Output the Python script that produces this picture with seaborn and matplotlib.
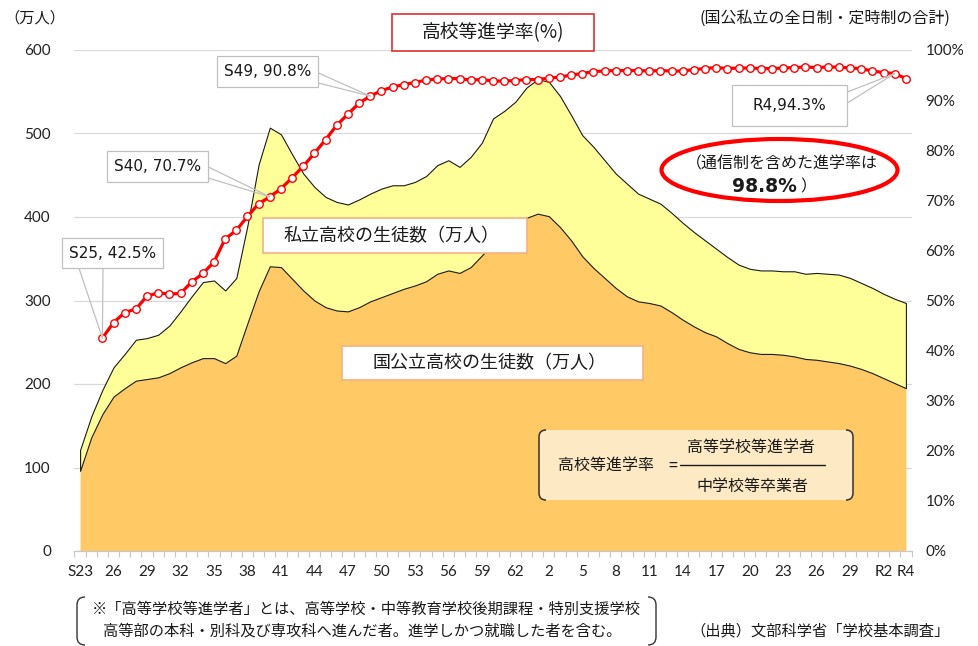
import numpy as np
import pandas as pd
import matplotlib
matplotlib.use("Agg")
import matplotlib.pyplot as plt
import matplotlib.transforms as mtransforms
from matplotlib.patches import Rectangle, Ellipse, PathPatch, FancyBboxPatch, ConnectionPatch
from matplotlib.path import Path
import seaborn as sns

# ---------------- data ----------------
years = list(range(1948, 2023))
public = [96, 136, 164, 185, 195, 204, 206, 208, 213, 220,
          226, 231, 231, 225, 234, 273, 311, 341, 340, 326,
          312, 300, 292, 288, 287, 292, 299, 304, 309, 314,
          318, 323, 332, 336, 333, 340, 354, 368, 378, 388,
          399, 404, 401, 388, 372, 353, 339, 327, 315, 305,
          299, 297, 294, 286, 277, 269, 262, 257, 249, 242,
          238, 236, 236, 235, 233, 230, 229, 227, 225, 222,
          218, 213, 207, 201, 195]
total = [121, 161, 193, 220, 236, 253, 255, 259, 270, 287,
         305, 322, 324, 312, 327, 390, 463, 507, 499, 475,
         452, 436, 424, 418, 415, 421, 428, 434, 438, 438,
         442, 449, 462, 468, 460, 472, 489, 518, 527, 538,
         555, 565, 562, 545, 522, 498, 484, 468, 452, 440,
         428, 422, 416, 405, 393, 382, 372, 362, 352, 343,
         338, 336, 336, 335, 335, 332, 333, 332, 331, 327,
         321, 315, 308, 302, 297]
rate_years = list(range(1950, 2023))
rate = [42.5, 45.6, 47.6, 48.3, 50.9, 51.5, 51.3, 51.4, 53.7, 55.4,
        57.7, 62.3, 64.0, 66.8, 69.3, 70.7, 72.3, 74.5, 76.8, 79.4,
        82.1, 85.0, 87.2, 89.4, 90.8, 91.9, 92.6, 93.1, 93.5, 94.0,
        94.2, 94.3, 94.3, 94.0, 94.1, 93.8, 93.8, 93.9, 94.1, 94.1,
        94.4, 94.6, 95.0, 95.3, 95.7, 95.8, 95.9, 95.9, 95.9, 95.8,
        95.9, 95.8, 95.8, 96.1, 96.3, 96.5, 96.3, 96.4, 96.4, 96.3,
        96.3, 96.4, 96.5, 96.6, 96.5, 96.6, 96.6, 96.4, 96.3, 95.8,
        95.5, 95.3, 94.3]
tick_years = [1948, 1951, 1954, 1957, 1960, 1963, 1966, 1969, 1972, 1975,
              1978, 1981, 1984, 1987, 1990, 1993, 1996, 1999, 2002, 2005,
              2008, 2011, 2014, 2017, 2020, 2022]
tick_labels = ["S23", "26", "29", "32", "35", "38", "41", "44", "47", "50",
               "53", "56", "59", "62", "2", "5", "8", "11", "14", "17",
               "20", "23", "26", "29", "R2", "R4"]
callouts = [("S25, 42.5%", 1950), ("S40, 70.7%", 1965),
            ("S49, 90.8%", 1974), ("R4,94.3%", 2021)]

df = pd.DataFrame({"year": years, "public": public, "total": total})
df["x"] = df["year"] - years[0]
rdf = pd.DataFrame({"year": rate_years, "rate": rate})
rdf["x"] = rdf["year"] - years[0]

# ---------------- style ----------------
sns.set_theme(style="white")
JP = ["Noto Sans CJK JP", "DejaVu Sans"]
plt.rcParams["font.family"] = JP

W, H = 979, 646
fig = plt.figure(figsize=(W / 100, H / 100), dpi=100)
PX = mtransforms.Affine2D().scale(0.01, -0.01).translate(0, H / 100) + fig.dpi_scale_trans

ax = fig.add_axes([74.5 / W, 1 - 551 / H, (911.5 - 74.5) / W, (551 - 50) / H])
ax.set_xlim(-0.5, 74.5)
ax.set_ylim(0, 600)

ax.fill_between(df["x"], 0, df["public"], color="#FFC966", lw=0, zorder=2)
ax.fill_between(df["x"], df["public"], df["total"], facecolor="#FFFF99",
                edgecolor="#1a1a1a", lw=0.8, zorder=2)

ax.set_yticks(range(0, 601, 100))
ax.yaxis.grid(True, color="#d9d9d9", lw=0.9)
ax.set_axisbelow(True)
ax.set_xticks([y - years[0] for y in tick_years])
ax.set_xticklabels(tick_labels)
ax.set_xticks(np.arange(-0.5, 75, 1), minor=True)
ax.tick_params(axis="x", which="major", length=0, pad=10, labelsize=11, colors="#222222")
ax.tick_params(axis="x", which="minor", length=4.5, width=0.8, color="#c8c8c8", bottom=True)
ax.tick_params(axis="y", length=0, pad=17, labelsize=11, colors="#222222")
for s in ["top", "left", "right"]:
    ax.spines[s].set_visible(False)
ax.spines["bottom"].set_color("#c8c8c8")
ax.spines["bottom"].set_linewidth(0.9)
for lab in ax.get_xticklabels() + ax.get_yticklabels():
    lab.set_fontfamily("Lato")
ax.set_xlabel("")
ax.set_ylabel("")

ax2 = ax.twinx()
sns.lineplot(data=rdf, x="x", y="rate", ax=ax2, color="#FF0000", lw=2.3,
             marker="o", markersize=5.4, markerfacecolor="white",
             markeredgecolor="#FF0000", markeredgewidth=1.0, zorder=5)
ax2.set_ylim(0, 100)
ax2.set_xlim(-0.5, 74.5)
ax2.set_yticks(range(0, 101, 10))
ax2.set_yticklabels([f"{v}%" for v in range(0, 101, 10)])
ax2.tick_params(axis="y", length=0, pad=10, labelsize=11, colors="#222222")
for lab in ax2.get_yticklabels():
    lab.set_fontfamily("Lato")
for s in ax2.spines.values():
    s.set_visible(False)
ax2.set_xlabel("")
ax2.set_ylabel("")


# ---------------- decorations (pixel layout) ----------------
def rect(x0, y0, x1, y1, ec, fc="white", lw=1.0):
    fig.add_artist(Rectangle((x0, y0), x1 - x0, y1 - y0, transform=PX,
                             ec=ec, fc=fc, lw=lw, zorder=6))


def txt(x, y, s, size, ha="center", **kw):
    fig.text(x, y, s, transform=PX, ha=ha, va="center", fontsize=size,
             color=kw.pop("color", "#1a1a1a"), zorder=8, **kw)


def brackets(x0, y0, x1, y1, r, color="#333333", lw=1.1):
    M, C, L = Path.MOVETO, Path.CURVE3, Path.LINETO
    left = Path([(x0 + r, y0), (x0, y0), (x0, y0 + r), (x0, y1 - r), (x0, y1), (x0 + r, y1)],
                [M, C, C, L, C, C])
    right = Path([(x1 - r, y0), (x1, y0), (x1, y0 + r), (x1, y1 - r), (x1, y1), (x1 - r, y1)],
                 [M, C, C, L, C, C])
    for p in (left, right):
        fig.add_artist(PathPatch(p, transform=PX, fill=False, ec=color, lw=lw, zorder=7))


# area labels
rect(262.7, 218.3, 526.7, 252.7, ec="#F4B183", lw=1.2)
txt(392, 236.5, "私立高校の生徒数（万人）", 13)
rect(341.7, 345.7, 643, 380, ec="#F4B183", lw=1.2)
txt(489, 363.5, "国公立高校の生徒数（万人）", 13)

# title
rect(392, 14, 594, 51, ec="#E03030", lw=1.2)
txt(493, 33, "高校等進学率(%)", 13.5)
txt(35, 18, "（万人）", 11)
txt(950, 18, "(国公私立の全日制・定時制の合計)", 11.5, ha="right")

# callouts
boxes = {"S25, 42.5%": ((61.7, 238.3, 163.3, 268.3), [(79, 268.3), (103, 268.3)]),
         "S40, 70.7%": ((106.7, 151, 208.3, 181.7), [(208.3, 167), (208.3, 178)]),
         "S49, 90.8%": ((216.7, 56, 318.3, 87.3), [(318.3, 73), (318.3, 83)]),
         "R4,94.3%": ((731.7, 85, 847.3, 126), [(847.3, 92), (847.3, 103)])}
for label, yr in callouts:
    (x0, y0, x1, y1), anchors = boxes[label]
    xi = yr - years[0]
    yv = rate[rate_years.index(yr)]
    for a in anchors:
        fig.add_artist(ConnectionPatch(xyA=a, coordsA=PX, xyB=(xi, yv), coordsB=ax2.transData,
                                       color="#c0c0c0", lw=0.9, zorder=5))
    rect(x0, y0, x1, y1, ec="#c0c0c0", lw=0.9)
    txt((x0 + x1) / 2, (y0 + y1) / 2, label, 11, family="DejaVu Sans")

# ellipse note
fig.add_artist(Ellipse((779.5, 170), 236, 62, transform=PX, fill=False,
                       ec="#FF0000", lw=3.0, zorder=7))
txt(782, 164, "（通信制を含めた進学率は", 11.5)
txt(764, 186, "98.8%", 13.5, family="DejaVu Sans", fontweight="bold")
txt(800, 187, "）", 11.5, ha="left")

# formula box
fig.add_artist(FancyBboxPatch((539, 430), 314, 70, boxstyle="round,pad=0,rounding_size=7",
                              transform=PX, fc="#FDE9C4", ec="none", zorder=6))
brackets(539, 430, 853, 500, 7)
txt(606, 465, "高校等進学率", 11.5)
txt(673, 466, "=", 11.5)
fig.add_artist(matplotlib.lines.Line2D([680, 825], [465, 465], transform=PX,
                                       color="#1a1a1a", lw=1.0, zorder=8))
txt(751, 447, "高等学校等進学者", 11.5)
txt(752, 486, "中学校等卒業者", 11.5)

# footnote
brackets(77, 597, 656, 645, 8, lw=1.0)
txt(92, 609, "※「高等学校等進学者」とは、高等学校・中等教育学校後期課程・特別支援学校", 11, ha="left")
txt(103, 631, "高等部の本科・別科及び専攻科へ進んだ者。進学しかつ就職した者を含む。", 11, ha="left")
txt(950, 631, "（出典）文部科学省「学校基本調査」", 11, ha="right")

fig.savefig("out.png", dpi=100)
